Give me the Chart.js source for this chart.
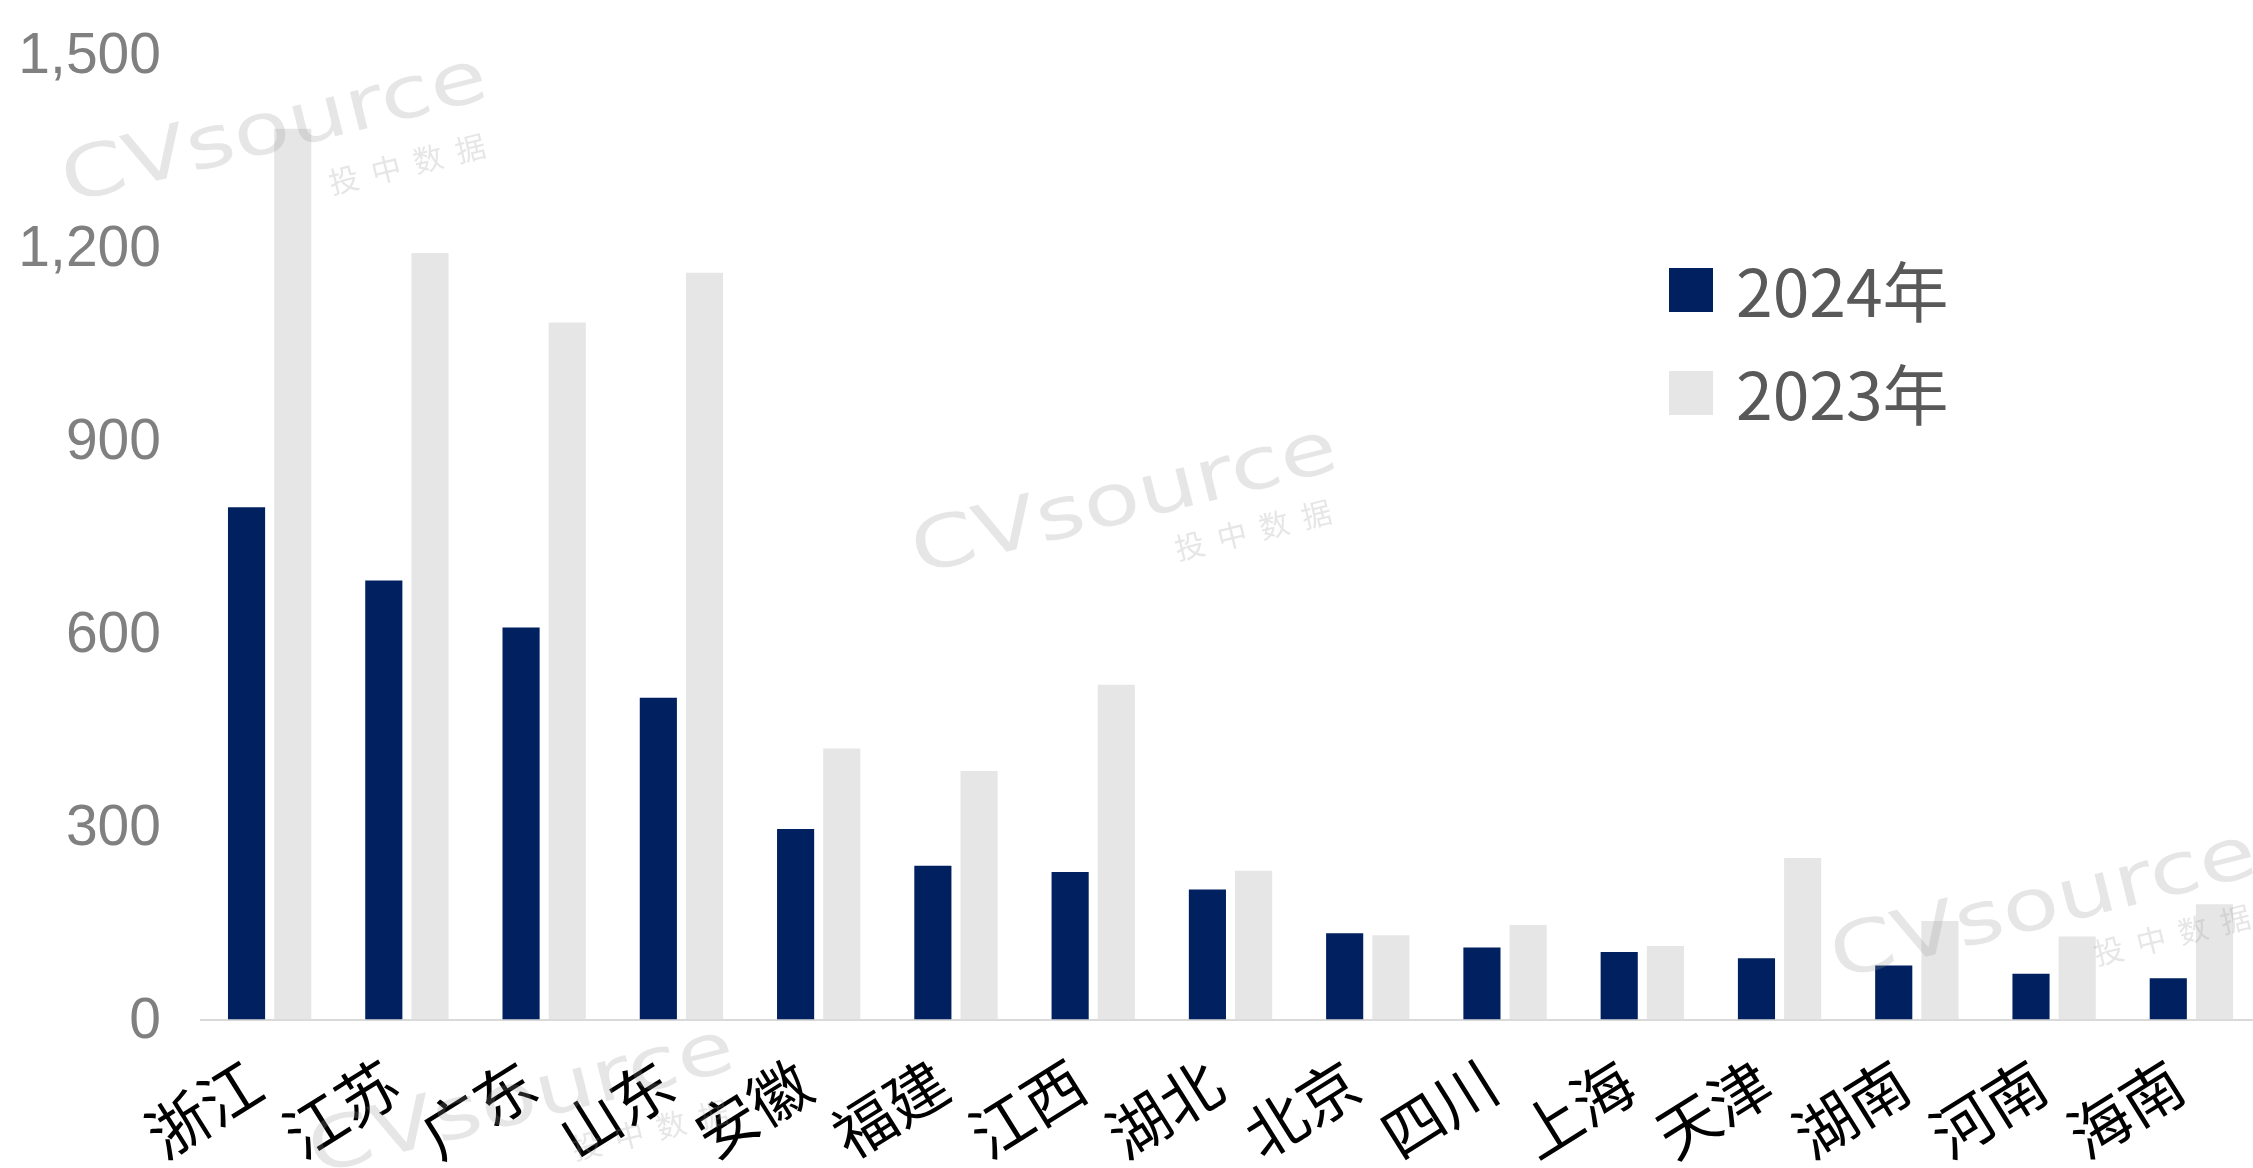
<html>
<head>
  <meta charset="utf-8">
  <script src="https://cdn.jsdelivr.net/npm/chart.js@4.4.0/dist/chart.umd.min.js"></script>
  <style>
    html, body { margin: 0; padding: 0; overflow: hidden; background: #fff; }
    #wrap { position: relative; width: 2260px; height: 1168px; }
  </style>
</head>
<body>
<div id="wrap">
  <canvas id="bc"></canvas>
</div>
<script>
  // data
  var provinces = ['浙江','江苏','广东','山东','安徽','福建','江西','湖北','北京','四川','上海','天津','湖南','河南','海南'];
  var v2024 = [796, 682, 609, 500, 296, 239, 229, 202, 134, 112, 105, 95, 84, 71, 64];
  var v2023 = [1384, 1191, 1083, 1160, 421, 386, 520, 231, 131, 147, 114, 251, 153, 129, 179];
  var seriesNames = ['2024年', '2023年'];
  var yMax = 1500, yStep = 300;

  var navy = '#002060', grey = '#e6e6e6';

  // watermark spots (word centre, sub-text centre)
  var marks = [
    [275, 132, 407, 164],
    [1125, 503, 1253, 530],
    [2044, 908, 2172, 935],
    [522, 1103, 650, 1130]
  ];

  var watermark = {
    id: 'watermark',
    afterDatasetsDraw: function(chart) {
      var c = chart.ctx;
      c.save();
      c.fillStyle = 'rgba(150,150,150,0.24)';
      marks.forEach(function(m) {
        c.save();
        c.translate(m[0], m[1]);
        c.rotate(-14 * Math.PI / 180);
        c.font = '400 80px "DejaVu Sans"';
        c.textAlign = 'center';
        c.textBaseline = 'middle';
        var w = c.measureText('CVsource').width;
        c.scale(436 / w, 0.9);
        c.fillText('CVsource', 0, 0);
        c.restore();
        c.save();
        c.translate(m[2], m[3]);
        c.rotate(-14 * Math.PI / 180);
        c.font = '400 30px "Noto Sans CJK SC"';
        c.textAlign = 'center';
        c.textBaseline = 'middle';
        c.fillText('投  中  数  据', 0, 0);
        c.restore();
      });
      c.restore();
    }
  };

  var boxLegend = {
    id: 'boxLegend',
    afterDraw: function(chart) {
      var c = chart.ctx;
      var ys = [290, 393];
      c.save();
      chart.data.datasets.forEach(function(ds, i) {
        c.fillStyle = ds.backgroundColor;
        c.fillRect(1669, ys[i] - 22, 44, 44);
        c.fillStyle = '#595959';
        c.font = '400 66px "Noto Sans CJK SC"';
        c.textAlign = 'left';
        c.textBaseline = 'middle';
        c.fillText(ds.label, 1736, ys[i] + 2);
      });
      c.restore();
    }
  };

  function init() {
    new Chart(document.getElementById('bc'), {
      type: 'bar',
      data: {
        labels: provinces,
        datasets: [
          { label: seriesNames[0], data: v2024, backgroundColor: navy },
          { label: seriesNames[1], data: v2023, backgroundColor: grey }
        ]
      },
      options: {
        responsive: true,
        maintainAspectRatio: false,
        devicePixelRatio: 1,
        animation: false,
        categoryPercentage: 0.673,
        barPercentage: 0.804,
        layout: { padding: { top: 54, left: 0, right: 0, bottom: 0 } },
        plugins: {
          legend: { display: false },
          tooltip: { enabled: false }
        },
        scales: {
          x: {
            grid: { display: false, drawTicks: true, tickLength: 26 },
            border: { display: true, color: '#d9d9d9', width: 2 },
            ticks: {
              color: '#000',
              font: { family: '"Noto Sans CJK SC"', size: 61 },
              minRotation: 32,
              maxRotation: 32,
              autoSkip: false,
              padding: 0,
              labelOffset: -14
            },
            afterFit: function(s) { s.height = 148.5; }
          },
          y: {
            min: 0,
            max: yMax,
            grid: { display: false, drawTicks: true, tickLength: 40 },
            border: { display: false },
            ticks: {
              stepSize: yStep,
              color: '#808080',
              font: { family: '"Liberation Sans", Arial', size: 57 },
              padding: 0,
              labelOffset: 3,
              callback: function(v) { return v.toLocaleString('en-US'); }
            },
            afterFit: function(s) { s.width = 201; }
          }
        }
      },
      plugins: [watermark, boxLegend]
    });
  }
  window.addEventListener('load', init);
</script>
</body>
</html>
